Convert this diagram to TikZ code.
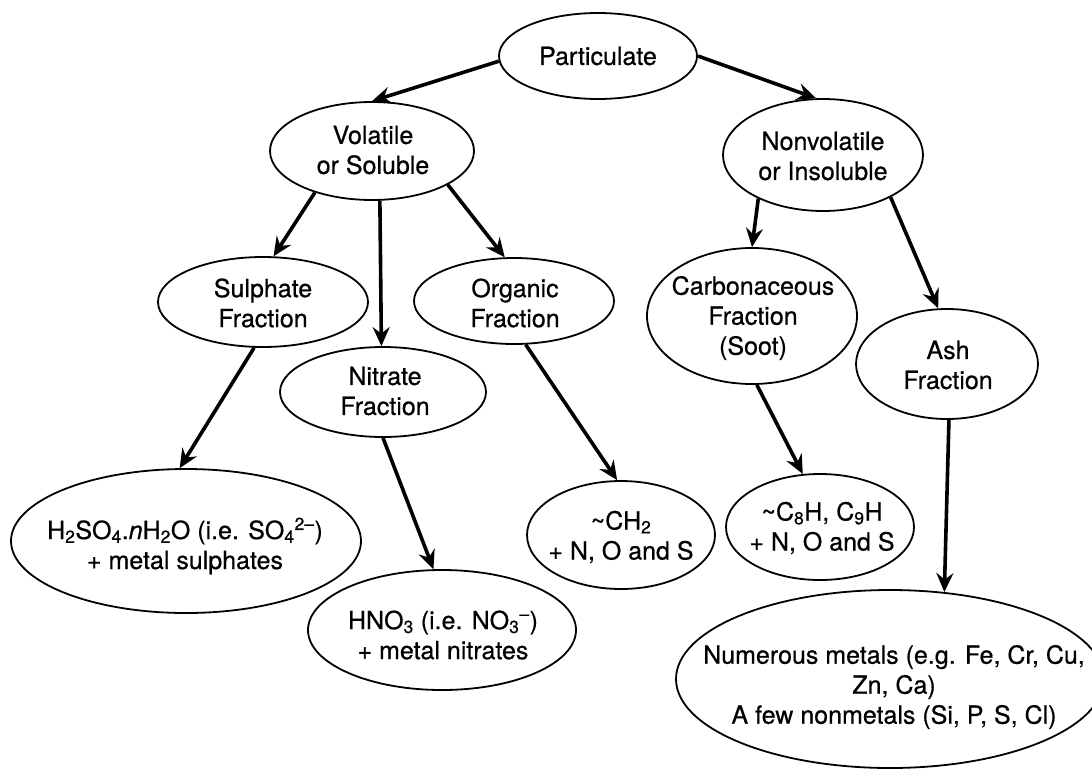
\documentclass[tikz,border=0pt]{standalone}
\usepackage{fontspec}
\setmainfont{TeX Gyre Heros}[FakeBold=0.6]
\usetikzlibrary{arrows.meta,shapes.geometric}
\begin{document}
\begin{tikzpicture}[x=1pt,y=-1pt,
  E/.style 2 args={draw, ellipse, line width=1.8pt, inner sep=0pt, minimum width=#1, minimum height=#2},
  lbl/.style={align=center, inner sep=0pt, font=\fontsize{25}{30}\selectfont},
  arr/.style={-{Stealth[length=19pt,width=17pt,inset=6.5pt]}, line width=3.6pt}]
\useasboundingbox (0,0) rectangle (1092,769);
\fill[white] (0,0) rectangle (1092,769);
% ellipses
\node[E={198pt}{86pt}]  (p)   at (598,56)  {};
\node[E={204pt}{98pt}]  (v)   at (372,151) {};
\node[E={200pt}{112pt}] (nv)  at (823,155) {};
\node[E={210pt}{90pt}]  (sul) at (263,302) {};
\node[E={200pt}{86pt}]  (org) at (514,301) {};
\node[E={206pt}{90pt}]  (nit) at (383,392) {};
\node[E={210pt}{136pt}] (carb) at (752,316) {};
\node[E={182pt}{110pt}] (ash) at (947,364) {};
\node[E={350pt}{144pt}] (hs)  at (186,541) {};
\node[E={268pt}{120pt}] (hn)  at (442,630) {};
\node[E={188pt}{108pt}] (ch)  at (621,535) {};
\node[E={188pt}{106pt}] (cc)  at (820,527) {};
\node[E={428pt}{178pt}] (num) at (890,679) {};
% texts
\node[lbl] (pt)   at (598,56)  {Particulate};
\node[lbl] (vt)   at (373,150) {Volatile\\or Soluble};
\node[lbl] (nvt)  at (823,156) {Nonvolatile\\or Insoluble};
\node[lbl] (sult) at (263,303) {Sulphate\\Fraction};
\node[lbl] (orgt) at (515,303) {Organic\\Fraction};
\node[lbl] (nitt) at (385,391) {Nitrate\\Fraction};
\node[lbl] (carbt) at (753,318) {Carbonaceous\\Fraction\\(Soot)};
\node[lbl] (asht) at (948,365) {Ash\\Fraction};
\node[lbl] (hst)  at (185,546) {H\textsubscript{2}SO\textsubscript{4}.\textit{n}H\textsubscript{2}O (i.e. SO\textsubscript{4}\textsuperscript{2–})\\+ metal sulphates};
\node[lbl] (hnt)  at (443,635) {HNO\textsubscript{3} (i.e. NO\textsubscript{3}\textsuperscript{–})\\+ metal nitrates};
\node[lbl] (cht)  at (621,537) {\textasciitilde CH\textsubscript{2}\\+ N, O and S};
\node[lbl] (cct)  at (822,528) {\textasciitilde C\textsubscript{8}H, C\textsubscript{9}H\\+ N, O and S};
\node[lbl] (numt) at (894,687) {Numerous metals (e.g. Fe, Cr, Cu,\\Zn, Ca)\\A few nonmetals (Si, P, S, Cl)};
% connectors
\draw[arr] (p.183) -- (v.north);
\draw[arr] (p.east) -- (nv.97);
\draw[arr] (v.-144) -- (sul.77);
\draw[arr] (v.-81) -- (nit.92);
\draw[arr] (v.-24.5) -- (org.102);
\draw[arr] (nv.-146) -- (carb.north);
\draw[arr] (nv.-32) -- (ash.99);
\draw[arr] (sul.-101) -- (hs.95);
\draw[arr] (nit.south) -- (hn.98);
\draw[arr] (org.-75.5) -- (ch.94);
\draw[arr] (carb.-86) -- (cc.108);
\draw[arr] (ash.-88) -- (num.58);
\end{tikzpicture}
\end{document}
